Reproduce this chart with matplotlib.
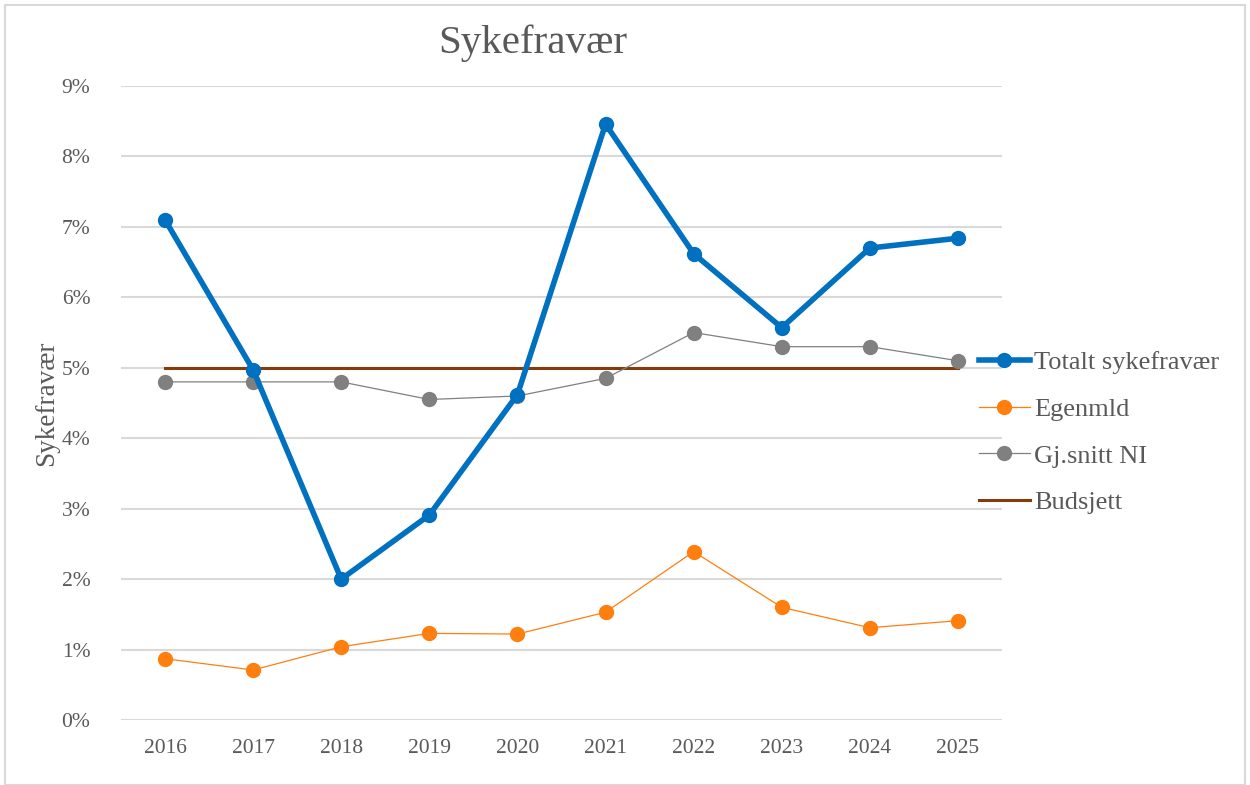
import matplotlib
matplotlib.use("Agg")
import matplotlib.pyplot as plt
from matplotlib.patches import Rectangle
from matplotlib.ticker import FuncFormatter

plt.rcParams['font.family'] = ['Liberation Serif', 'DejaVu Serif']

years = ["2016", "2017", "2018", "2019", "2020", "2021", "2022", "2023", "2024", "2025"]
totalt = [7.10, 4.97, 2.00, 2.91, 4.62, 8.46, 6.62, 5.57, 6.70, 6.84]
egenmld = [0.87, 0.71, 1.04, 1.23, 1.22, 1.53, 2.39, 1.60, 1.31, 1.41]
snitt_ni = [4.80, 4.80, 4.80, 4.55, 4.60, 4.85, 5.50, 5.30, 5.30, 5.10]
budsjett = [5.0] * 10

text_col = "#595959"

fig = plt.figure(figsize=(12.5, 7.85), dpi=100)
ax = fig.add_axes([0.0968, 0.0828, 0.7048, 0.8076])

x = range(len(years))
ax.plot(x, totalt, color="#0070C0", lw=4.0, marker="o", ms=10, label="Totalt sykefravær", zorder=5)
ax.plot(x, egenmld, color="#FF7F0E", lw=0.9, marker="o", ms=10, label="Egenmld", zorder=4)
ax.plot(x, snitt_ni, color="#808080", lw=0.9, marker="o", ms=10, label="Gj.snitt NI", zorder=3)
ax.plot(x, budsjett, color="#843C0C", lw=2.2, label="Budsjett", zorder=2)

ax.set_xlim(-0.5, 9.5)
ax.set_ylim(0, 9)
ax.set_yticks(range(10))
ax.yaxis.set_major_formatter(FuncFormatter(lambda v, p: f"{v:.0f}%"))
ax.set_xticks(list(x))
ax.set_xticklabels(years)
ax.grid(axis="y", color="#D9D9D9", lw=1.5)
ax.set_axisbelow(True)
for s in ax.spines.values():
    s.set_visible(False)
ax.tick_params(length=0, labelsize=15.5, colors=text_col, pad=14)
ax.tick_params(axis="y", pad=22)

ax.set_ylabel("Sykefravær", fontsize=19.5, color=text_col, labelpad=2)
fig.text(0.426, 0.945, "Sykefravær", fontsize=29.5, color=text_col, ha="center", va="center")

fig.legend(loc="center left", bbox_to_anchor=(0.764, 0.449), frameon=False,
           fontsize=19, labelcolor=text_col, handlelength=1.95, handletextpad=0.15,
           labelspacing=0.88)

fig.patches.append(Rectangle((0.004, 0.0), 0.992, 0.994, transform=fig.transFigure,
                             fill=False, edgecolor="#D9D9D9", lw=1.5))

fig.savefig("out.png", dpi=100)
